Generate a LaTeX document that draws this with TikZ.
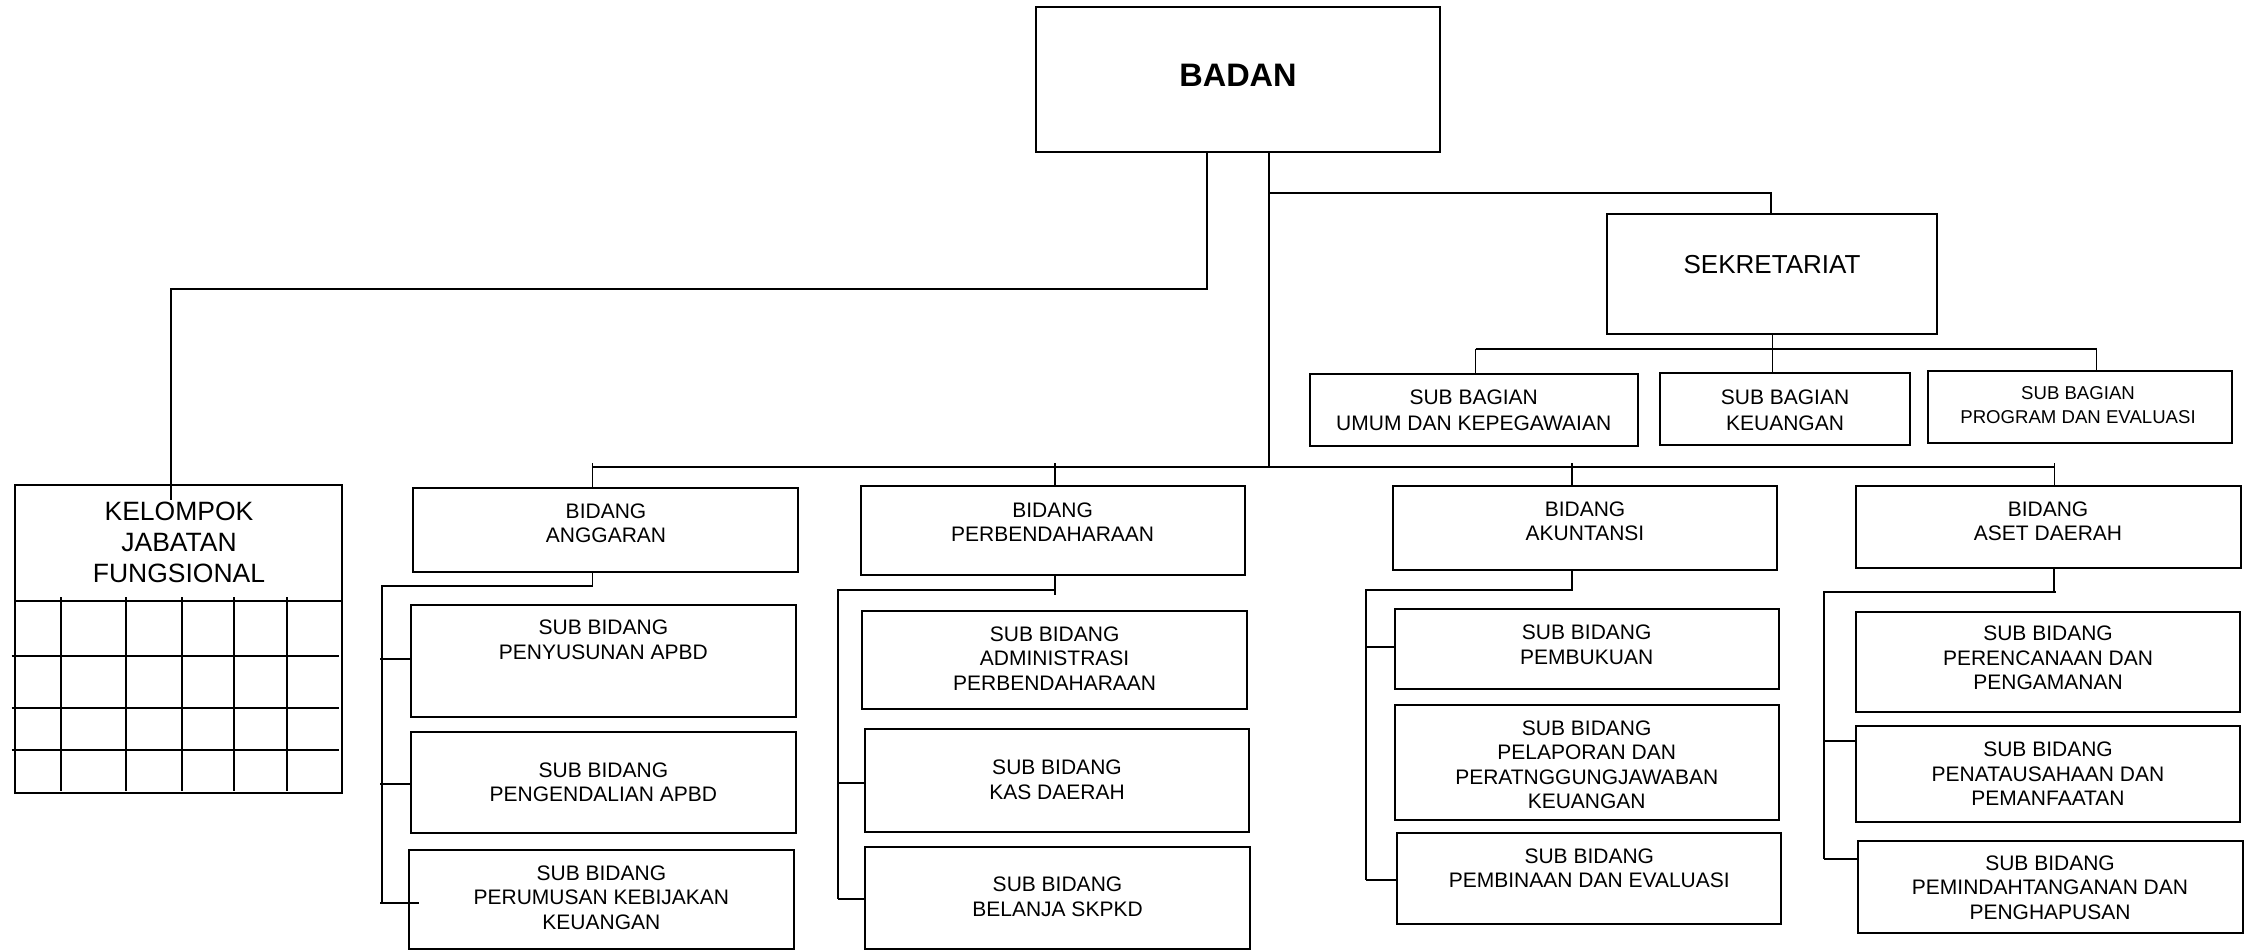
\documentclass[tikz,border=0pt]{standalone}
\usepackage{fontspec}
\setmainfont{Liberation Sans}
\usetikzlibrary{calc,fit}
\tikzset{
  box/.style={draw, line width=2pt, inner sep=0pt, outer sep=0pt},
  lbl/.style={inner sep=0pt, outer sep=0pt, align=center, font=\fontsize{21}{24.5}\selectfont},
  conn/.style={line width=1.8pt},
  grid/.style={line width=1.9pt},
}
\newcommand\orgbox[5]{\node[box, fit={(#2,#3) (#4,#5)}] (#1) {};}
\begin{document}
\begin{tikzpicture}[x=1pt,y=-1pt]
\useasboundingbox (0,0) rectangle (2249,951);
% ---------- boxes ----------
\orgbox{badan}{1036}{7.3}{1440}{152.3}
\orgbox{sekr}{1607.3}{214}{1937.3}{334.3}
\orgbox{umum}{1310}{374}{1637.5}{445.7}
\orgbox{keu}{1659.5}{372.7}{1910.4}{445.3}
\orgbox{prog}{1927.5}{370.5}{2232}{442.5}
\orgbox{kjf}{15}{485.2}{342.3}{792.7}
\orgbox{ang}{413}{488}{798.3}{571.7}
\orgbox{perb}{860.6}{486}{1244.6}{575}
\orgbox{akun}{1392.7}{486}{1777}{570}
\orgbox{aset}{1855.6}{486}{2240.5}{568.3}
\orgbox{peny}{410.5}{605}{796.3}{716.7}
\orgbox{peng}{410.5}{731.7}{796.3}{833.3}
\orgbox{perum}{408.8}{850}{794}{949}
\orgbox{admin}{862.3}{611}{1247}{709.3}
\orgbox{kas}{865.2}{729.3}{1248.6}{831.7}
\orgbox{bel}{865.2}{846.7}{1249.8}{949}
\orgbox{pemb}{1394.5}{609.3}{1779}{689.3}
\orgbox{pelap}{1394.5}{705}{1779}{820}
\orgbox{pembin}{1397.4}{832.7}{1781.3}{924}
\orgbox{peren}{1855.8}{611.7}{2240.3}{712.3}
\orgbox{penat}{1855.8}{726}{2240.3}{822.3}
\orgbox{pemin}{1857.5}{841}{2242.6}{932.7}
% ---------- texts ----------
\node[lbl, font=\fontsize{32.5}{36}\selectfont\bfseries] (badan-t) at (1238,75) {BADAN};
\node[lbl, font=\fontsize{26}{30}\selectfont] (sekr-t) at (1772,264.7) {SEKRETARIAT};
\node[lbl, font=\fontsize{21}{26}\selectfont] (umum-t) at (1473.7,410.5) {SUB BAGIAN\\UMUM DAN KEPEGAWAIAN};
\node[lbl, font=\fontsize{21}{26}\selectfont] (keu-t) at (1785,410.5) {SUB BAGIAN\\KEUANGAN};
\node[lbl, font=\fontsize{18.6}{24}\selectfont] (prog-t) at (2078,405.2) {SUB BAGIAN\\PROGRAM DAN EVALUASI};
\node[lbl, font=\fontsize{26.5}{31}\selectfont] (kjf-t) at (179,542) {KELOMPOK\\JABATAN\\FUNGSIONAL};
\node[lbl, font=\fontsize{21}{24}\selectfont] (ang-t) at (606,523.2) {BIDANG\\ANGGARAN};
\node[lbl, font=\fontsize{21}{24}\selectfont] (perb-t) at (1052.6,522) {BIDANG\\PERBENDAHARAAN};
\node[lbl, font=\fontsize{21}{24}\selectfont] (akun-t) at (1585,521.7) {BIDANG\\AKUNTANSI};
\node[lbl, font=\fontsize{21}{24}\selectfont] (aset-t) at (2048,521.7) {BIDANG\\ASET DAERAH};
\node[lbl] (peny-t) at (603.4,640) {SUB BIDANG\\PENYUSUNAN APBD};
\node[lbl] (peng-t) at (603.4,782.3) {SUB BIDANG\\PENGENDALIAN APBD};
\node[lbl] (perum-t) at (601.4,897.5) {SUB BIDANG\\PERUMUSAN KEBIJAKAN\\KEUANGAN};
\node[lbl] (admin-t) at (1054.6,658.3) {SUB BIDANG\\ADMINISTRASI\\PERBENDAHARAAN};
\node[lbl] (kas-t) at (1057,780) {SUB BIDANG\\KAS DAERAH};
\node[lbl] (bel-t) at (1057.5,897) {SUB BIDANG\\BELANJA SKPKD};
\node[lbl] (pemb-t) at (1586.7,644.7) {SUB BIDANG\\PEMBUKUAN};
\node[lbl] (pelap-t) at (1586.7,764.8) {SUB BIDANG\\PELAPORAN DAN\\PERATNGGUNGJAWABAN\\KEUANGAN};
\node[lbl] (pembin-t) at (1589.3,868.3) {SUB BIDANG\\PEMBINAAN DAN EVALUASI};
\node[lbl] (peren-t) at (2048,658) {SUB BIDANG\\PERENCANAAN DAN\\PENGAMANAN};
\node[lbl] (penat-t) at (2048,773.7) {SUB BIDANG\\PENATAUSAHAAN DAN\\PEMANFAATAN};
\node[lbl] (pemin-t) at (2050,887.6) {SUB BIDANG\\PEMINDAHTANGANAN DAN\\PENGHAPUSAN};
% ---------- coordinates ----------
\coordinate (kjfEnd) at (170.7,500);
\coordinate (jBus) at (1268.7,466.7);
\coordinate (jSek) at (1268.7,193.3);
\coordinate (bA) at (592.5,466.7);
\coordinate (bB) at (1054.6,466.7);
\coordinate (bC) at (1572,466.7);
\coordinate (bD) at (2054.5,466.7);
\coordinate (sA) at (1475.5,349.3);
\coordinate (sB) at (1772.5,349.3);
\coordinate (sC) at (2096.5,349.3);
\coordinate (spA) at (381.8,586);
\coordinate (spB) at (837.6,590);
\coordinate (spC) at (1366.3,590);
\coordinate (spD) at (1824,592);
% ---------- connectors ----------
\draw[conn] (badan.south -| 1207,0) |- (kjfEnd |- 0,289.3) -- (kjfEnd);
\draw[conn] (badan.south -| jBus) -- (jBus);
\draw[conn] (jSek) -| (sekr.north -| 1771,0);
\draw[conn] (sekr.south -| sB) -- (keu.north -| sB);
\draw[conn] (sA) -- (sC);
\draw[conn] (sA) -- (umum.north -| sA);
\draw[conn] ($(sC)+(0,-1.5)$) -- (prog.north -| sC);
\draw[conn] (bA) -- (bD);
\draw[conn] ($(bA)+(0,-3.5)$) -- (ang.north -| bA);
\draw[conn] ($(bB)+(0,-3.5)$) -- (perb.north -| bB);
\draw[conn] ($(bC)+(0,-3.5)$) -- (akun.north -| bC);
\draw[conn] ($(bD)+(0,-3.5)$) -- (aset.north -| bD);
% Anggaran
\draw[conn] (ang.south -| bA) |- (spA) -- (spA |- 0,903.3);
\draw[conn] (380,659) -- (peny.west |- 0,659);
\draw[conn] (380,784) -- (peng.west |- 0,784);
\draw[conn] (380,902.7) -- ($(perum.west |- 0,902.7)+(10,0)$);
% Perbendaharaan
\draw[conn] (perb.south -| bB) -- (1054.6,595);
\draw[conn] (1054.6,590) -- (spB) -- (spB |- 0,899.3);
\draw[conn] (spB |- 0,782.7) -- (kas.west |- 0,782.7);
\draw[conn] (spB |- 0,899.3) -- (bel.west |- 0,899.3);
% Akuntansi
\draw[conn] (akun.south -| bC) |- (spC) -- (spC |- 0,880);
\draw[conn] (spC |- 0,647.3) -- (pemb.west |- 0,647.3);
\draw[conn] (spC |- 0,880) -- (pembin.west |- 0,880);
% Aset
\draw[conn] (aset.south -| 2054,0) -- (2054,592);
\draw[conn] (2056,592) -- (spD) -- (spD |- 0,859);
\draw[conn] (spD |- 0,741) -- (penat.west |- 0,741);
\draw[conn] (spD |- 0,859) -- (pemin.west |- 0,859);
% Kelompok grid
\draw[grid] (kjf.west |- 0,600.6) -- (kjf.east |- 0,600.6);
\foreach \gx in {61,125.7,182,234.3,287}
  \draw[grid] (\gx,597) -- (\gx,791);
\foreach \gy in {656.4,707.7,749.7}
  \draw[grid] (11.7,\gy) -- (339,\gy);
\end{tikzpicture}
\end{document}
